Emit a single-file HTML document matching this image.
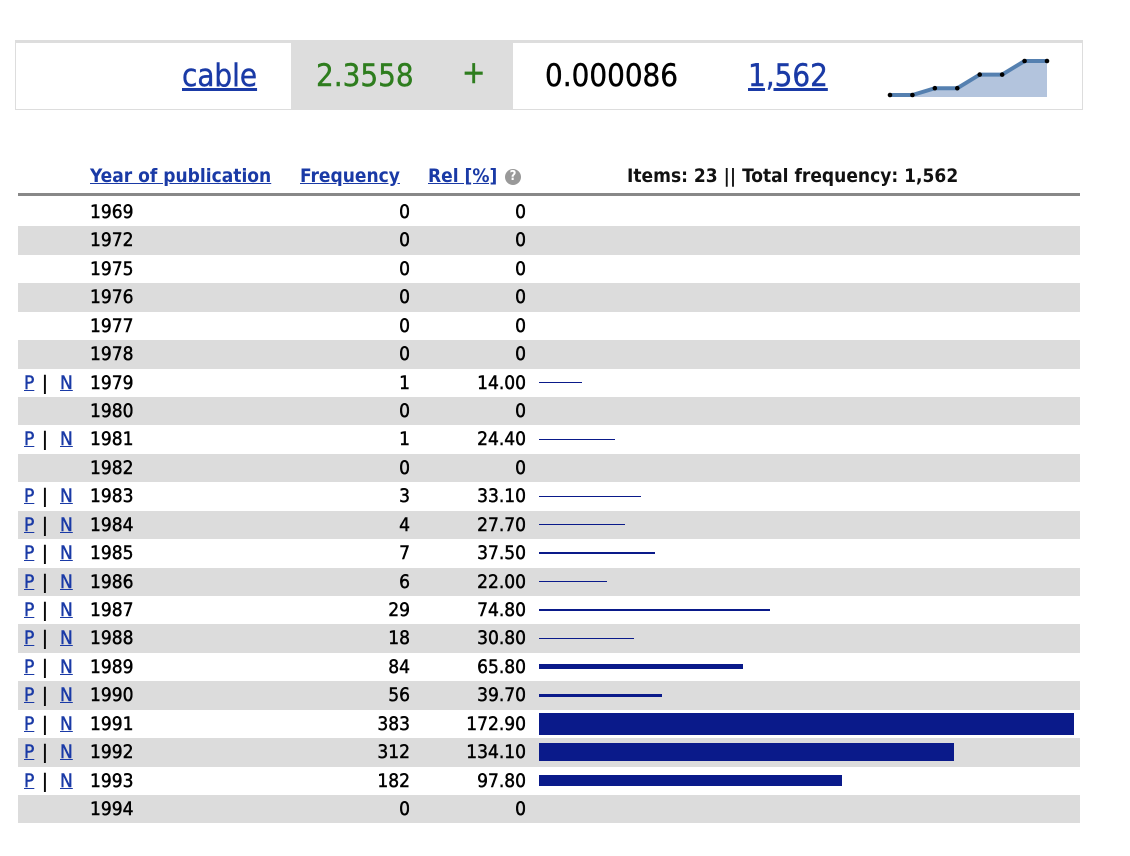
<!DOCTYPE html>
<html><head><meta charset="utf-8">
<style>
body{margin:0;width:1130px;height:856px;background:#fff;font-family:"DejaVu Sans Condensed","DejaVu Sans","Liberation Sans",sans-serif;position:relative;overflow:hidden}
.a{position:absolute;white-space:nowrap}
a,.lnk{color:#1a3aa6;text-decoration:underline}
.row{position:absolute;left:18px;width:1062px;height:28.43px}
.t{position:absolute;font-size:19px;line-height:28px;top:0;color:#000;-webkit-text-stroke:0.45px currentColor}
.hd{font-weight:bold;font-size:19px}
</style></head><body>
<div class="a" style="left:15px;top:40px;width:1066px;height:66px;border:1px solid #ddd;border-top:3px solid #ddd"></div>
<div class="a" style="left:291px;top:40px;width:222px;height:69px;background:#ddd"></div>
<div class="a lnk" style="left:182px;top:58px;font-size:31px;-webkit-text-stroke:0.4px currentColor">cable</div>
<div class="a" style="left:316px;top:58px;font-size:31px;color:#2e7d1e;-webkit-text-stroke:0.4px currentColor">2.3558</div>
<div class="a" style="left:462px;top:55px;font-size:31px;color:#2e7d1e;-webkit-text-stroke:0.6px currentColor">+</div>
<div class="a" style="left:545px;top:58px;font-size:31px;color:#000;-webkit-text-stroke:0.4px currentColor">0.000086</div>
<div class="a lnk" style="left:748px;top:58px;font-size:31px;-webkit-text-stroke:0.4px currentColor">1,562</div>
<svg class="a" style="left:880px;top:50px" width="180" height="55" id="spark"></svg>

<div class="a lnk hd" style="left:90px;top:165px">Year of publication</div>
<div class="a lnk hd" style="left:300px;top:165px">Frequency</div>
<div class="a lnk hd" style="left:428px;top:165px">Rel [%]</div>
<div class="a" style="left:505px;top:169px;width:16px;height:16px;border-radius:50%;background:#999;color:#fff;font-size:13px;line-height:16px;text-align:center;font-weight:bold">?</div>
<div class="a" style="left:627px;top:165px;font-size:19px;font-weight:bold;color:#111">Items: 23 || Total frequency: 1,562</div>
<div class="a" style="left:18px;top:193px;width:1062px;height:3px;background:#888"></div>
<div id="rows"></div>
<script>
const years=[1969,1972,1975,1976,1977,1978,1979,1980,1981,1982,1983,1984,1985,1986,1987,1988,1989,1990,1991,1992,1993,1994];
const freqs=[0,0,0,0,0,0,1,0,1,0,3,4,7,6,29,18,84,56,383,312,182,0];
const rels=[0,0,0,0,0,0,14.00,0,24.40,0,33.10,27.70,37.50,22.00,74.80,30.80,65.80,39.70,172.90,134.10,97.80,0];
const spark=[0,0,1,1,3,3,5,5];
const rowsEl=document.getElementById('rows');
const relMax=172.9, barW=535, rowH=28.43, top0=198;
const xs=v=>539+v/relMax*barW;
years.forEach((y,i)=>{
  const r=document.createElement('div');
  r.className='row';
  
  
  r.style.top=(top0+i*rowH)+'px';
  if(i%2===1) r.style.background='#dcdcdc';
  let h='';
  if(freqs[i]>0){
    h+='<span class="t lnk" style="left:6px;color:#1a3aa6">P</span><span class="t" style="left:24px">|</span><span class="t lnk" style="left:42px;color:#1a3aa6">N</span>';
  }
  h+='<span class="t" style="left:72px">'+y+'</span>';
  h+='<span class="t" style="right:670px">'+freqs[i]+'</span>';
  h+='<span class="t" style="right:554px">'+(rels[i]>0?rels[i].toFixed(2):'0')+'</span>';
  r.innerHTML=h;
  if(rels[i]>0){
    const b=document.createElement('div');
    
    
    const th=Math.max(1.5,freqs[i]/17.5);
    b.style.cssText='position:absolute;left:521px;background:#0a1a8a;width:'+(xs(rels[i])-539)+'px;height:'+th+'px;top:'+(14-th/2)+'px';
    r.appendChild(b);
  }
  rowsEl.appendChild(r);
});
const svg=document.getElementById('spark');
const sx=i=>10+i*(157/(spark.length-1)), sy=v=>45-v*6.8;
let pts=spark.map((v,i)=>sx(i)+','+sy(v)).join(' ');
let area='<polygon points="'+sx(0)+',47 '+pts+' '+sx(spark.length-1)+',47" fill="#b3c4dd"/>';
let line='<polyline points="'+pts+'" fill="none" stroke="#5580b0" stroke-width="4"/>';
let dots=spark.map((v,i)=>'<circle cx="'+sx(i)+'" cy="'+sy(v)+'" r="2.3" fill="#000"/>').join('');
svg.innerHTML=area+line+dots;
</script>
</body></html>
